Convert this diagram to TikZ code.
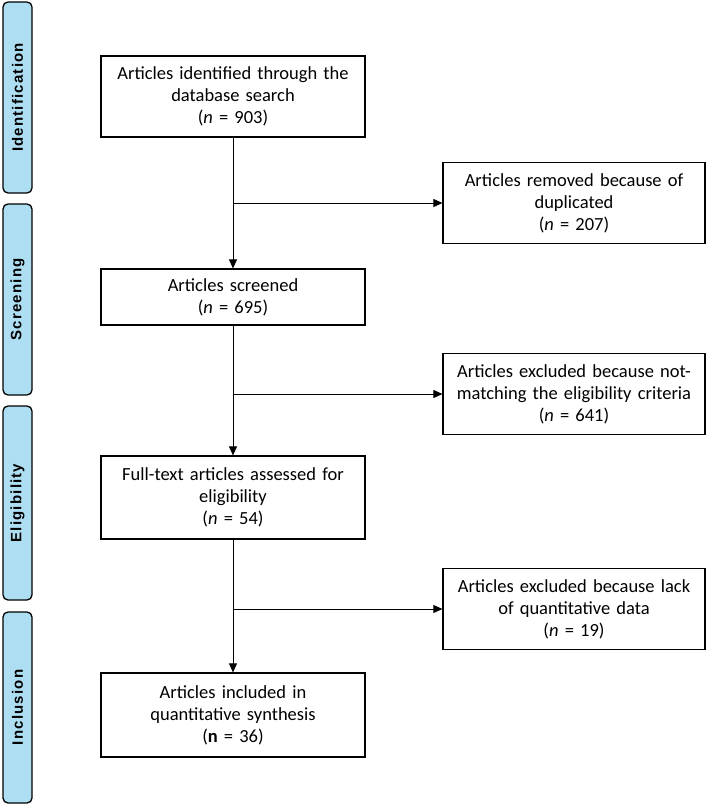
\documentclass[tikz,border=0pt]{standalone}
\usepackage{fontspec}
\setmainfont{Carlito}
\newfontfamily\barfont[LetterSpace=8]{Liberation Sans Bold}
\usetikzlibrary{arrows.meta,positioning}
\definecolor{stageblue}{RGB}{174,222,241}

\begin{document}
\begin{tikzpicture}[x=1pt, y=-1pt,
    stage/.style={draw, line width=1.3pt, fill=stageblue, rounded corners=5pt,
        rotate=90, minimum height=29pt, inner sep=0pt,
        font=\barfont\fontsize{15}{17}\selectfont},
    flowbox/.style={draw, line width=1.2pt, align=center, inner sep=0pt,
        font=\fontsize{18.5}{22}\selectfont},
    mainbox/.style={flowbox, minimum width=264pt, text width=256pt},
    sidebox/.style={flowbox, minimum width=262pt, minimum height=81pt, text width=256pt},
    arr/.style={-{Triangle[length=9pt,width=8pt]}, line width=0.8pt}]
                    \useasboundingbox (0,0) rectangle (710,805);

                    % stages
                    \node[stage, minimum width=191pt] (ident) at (17.5,97.5) {Identification};
                    \node[stage, minimum width=191pt] (screen) at (17.5,299.5) {Screening};
                    \node[stage, minimum width=194pt] (elig) at (17.5,503) {Eligibility};
                    \node[stage, minimum width=191pt] (incl) at (17.5,707.5) {Inclusion};

                    % main column
                    \node[mainbox, minimum height=81pt] (found) at (233,96.5)
                        {Articles identified through the\\ database search\\ (\textit{n} = 903)};
                    \node[mainbox, minimum height=56pt] (screened) at (233,297)
                        {Articles screened\\ (\textit{n} = 695)};
                    \node[mainbox, minimum height=83pt] (fulltext) at (233,497.5)
                        {Full-text articles assessed for\\ eligibility\\ (\textit{n} = 54)};
                    \node[mainbox, minimum height=84pt] (included) at (233,715)
                        {Articles included in\\ quantitative synthesis\\ (\textbf{n} = 36)};

                    % excluded
                    \node[sidebox] (dupl) at (574,203)
                        {Articles removed because of\\ duplicated\\ (\textit{n} = 207)};
                    \node[sidebox] (nomatch) at (574,394)
                        {Articles excluded because not-\\ matching the eligibility criteria\\ (\textit{n} = 641)};
                    \node[sidebox] (nodata) at (574,609)
                        {Articles excluded because lack\\ of quantitative data\\ (\textit{n} = 19)};

                    \draw[arr] (found) -- (screened);
                    \draw[arr] (screened) -- (fulltext);
                    \draw[arr] (fulltext) -- (included);

                    \draw[arr] (found.south |- dupl.west) -- (dupl.west);
                    \draw[arr] (screened.south |- nomatch.west) -- (nomatch.west);
                    \draw[arr] (fulltext.south |- nodata.west) -- (nodata.west);
                \end{tikzpicture}
\end{document}
